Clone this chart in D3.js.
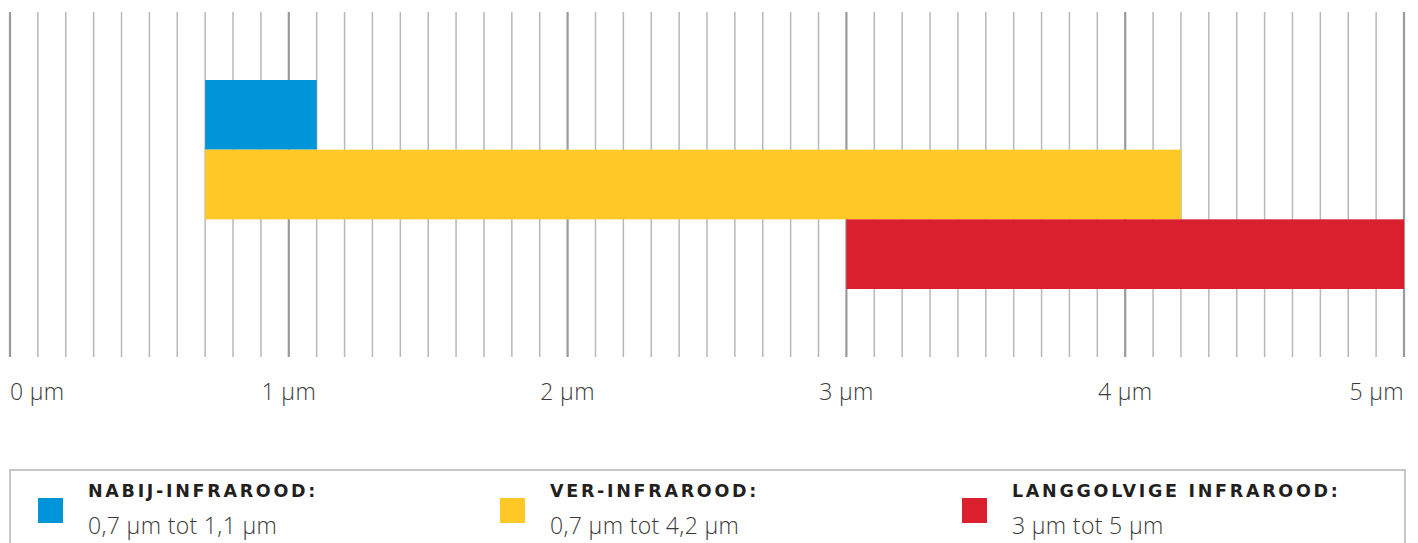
<!DOCTYPE html>
<html>
<head>
<meta charset="utf-8">
<script src="https://cdn.jsdelivr.net/npm/d3@7"></script>
<style>
  body { margin: 0; background: #fff; }
  svg { display: block; }
  .tick-label { font-family: "Open Sans", sans-serif; font-weight: 300; font-size: 23px; letter-spacing: 0.35px; fill: #3a3a3a; }
  .leg-title { font-family: "DejaVu Sans", sans-serif; font-weight: 700; font-size: 17.5px; letter-spacing: 2.7px; fill: #231f20; }
  .leg-range { font-family: "Open Sans", sans-serif; font-weight: 300; font-size: 23px; letter-spacing: 0.35px; fill: #3a3a3a; }
</style>
</head>
<body>
<div id="chart"></div>
<script>
// data
const categories = ["NABIJ-INFRAROOD:", "VER-INFRAROOD:", "LANGGOLVIGE INFRAROOD:"];
const startValues = [0.7, 0.7, 3];
const endValues = [1.1, 4.2, 5];
const rangeLabels = ["0,7 µm tot 1,1 µm", "0,7 µm tot 4,2 µm", "3 µm tot 5 µm"];
const tickValues = [0, 1, 2, 3, 4, 5];
const tickLabels = ["0 µm", "1 µm", "2 µm", "3 µm", "4 µm", "5 µm"];

const colors = ["#0094d8", "#fec827", "#da1f2f"];

const width = 1418, height = 543;
const margin = { left: 10, right: 14, top: 12 };
const gridBottom = 357;

const svg = d3.select('#chart')
    .append('svg')
    .attr('width', width)
    .attr('height', height);

const xScale = d3.scaleLinear()
    .domain([0, 5])
    .range([margin.left, width - margin.right]);

const yScale = d3.scaleBand()
    .domain(categories)
    .range([80, 289])
    .padding(0);

// grid lines, every 0.1 µm
const minor = xScale.ticks(50);
svg.append('g')
    .attr('class', 'grid')
    .selectAll('line')
    .data(minor)
    .enter()
    .append('line')
    .attr('x1', d => xScale(d))
    .attr('x2', d => xScale(d))
    .attr('y1', margin.top)
    .attr('y2', gridBottom)
    .attr('stroke', d => Math.abs(d - Math.round(d)) < 1e-6 ? '#9a9a9c' : '#b8b8b8')
    .attr('stroke-width', d => Math.abs(d - Math.round(d)) < 1e-6 ? 2.2 : 1.5);

// bars
svg.append('g')
    .attr('class', 'bars')
    .selectAll('rect')
    .data(categories)
    .enter()
    .append('rect')
    .attr('x', (d, i) => xScale(startValues[i]))
    .attr('y', d => yScale(d))
    .attr('width', (d, i) => xScale(endValues[i]) - xScale(startValues[i]))
    .attr('height', yScale.bandwidth())
    .attr('fill', (d, i) => colors[i]);

// axis labels
svg.append('g')
    .attr('class', 'axis')
    .selectAll('text')
    .data(tickValues)
    .enter()
    .append('text')
    .attr('class', 'tick-label')
    .attr('x', d => xScale(d))
    .attr('y', 400)
    .attr('text-anchor', (d, i) => i === 0 ? 'start' : (i === tickValues.length - 1 ? 'end' : 'middle'))
    .text((d, i) => tickLabels[i]);

// legend
svg.append('rect')
    .attr('x', xScale(0))
    .attr('y', 470)
    .attr('width', xScale(5) - xScale(0) + 1)
    .attr('height', 100)
    .attr('fill', 'none')
    .attr('stroke', '#b5b5b5')
    .attr('stroke-width', 1.5);

const legend = svg.append('g')
    .attr('class', 'legend')
    .selectAll('g')
    .data(categories)
    .enter()
    .append('g')
    .attr('transform', (d, i) => `translate(${38 + i * 462}, 0)`);

legend.append('rect')
    .attr('x', 0)
    .attr('y', 498)
    .attr('width', 25)
    .attr('height', 25)
    .attr('fill', (d, i) => colors[i]);

legend.append('text')
    .attr('class', 'leg-title')
    .attr('x', 50)
    .attr('y', 497)
    .text(d => d);

legend.append('text')
    .attr('class', 'leg-range')
    .attr('x', 50)
    .attr('y', 534)
    .text((d, i) => rangeLabels[i]);
</script>
</body>
</html>
